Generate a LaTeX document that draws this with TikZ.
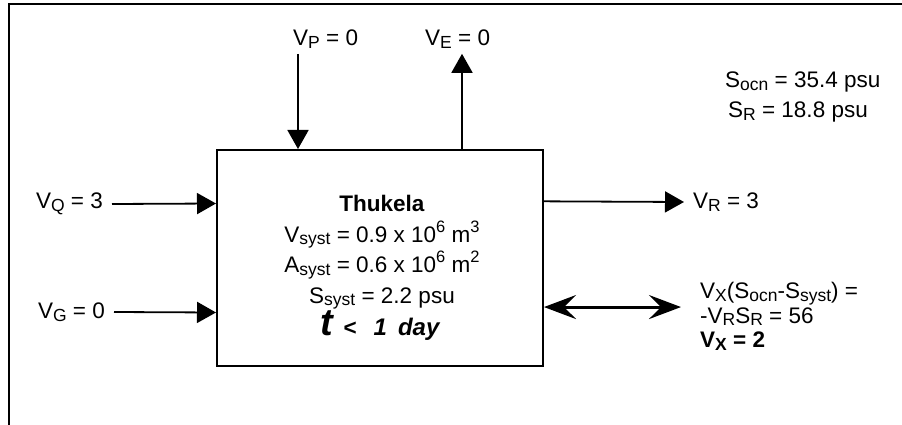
\documentclass[tikz,border=0pt]{standalone}
\usepackage{fontspec}
\setmainfont{Liberation Sans}
\usetikzlibrary{calc,arrows.meta}
\newcommand{\subtxt}[1]{\raisebox{-0.22ex}{\fontsize{17.5}{17.5}\selectfont #1}}
\newcommand{\suptxt}[1]{\raisebox{0.8ex}{\fontsize{16.5}{16.5}\selectfont #1}}

\begin{document}
\begin{tikzpicture}[x=1pt,y=-1pt,>={Triangle[length=19pt,width=21pt]},
    lbl/.style={font=\fontsize{22.5}{26}\selectfont, inner xsep=9pt, inner ysep=5pt},
    flow/.style={->, line width=1.8pt}]
      \useasboundingbox (0,0) rectangle (902,425);
      \draw[line width=2pt] (9,425) -- (9,4) -- (902,4);
      % the estuary box
      \node[draw, line width=2pt, minimum width=326pt, minimum height=216pt, inner sep=0pt] (box) at (380,258) {};
      \node[font=\fontsize{22.5}{30.5}\selectfont, align=center, anchor=north, inner sep=0pt] (boxtxt) at (382,195)
        {\textbf{Thukela}\\
         V\subtxt{syst} = 0.9 x 10\suptxt{6} m\suptxt{3}\\
         A\subtxt{syst} = 0.6 x 10\suptxt{6} m\suptxt{2}\\
         S\subtxt{syst} = 2.2 psu\\
         \hspace*{-4pt}{\fontsize{38}{30}\selectfont\bfseries\itshape t}\hspace{9pt}\textbf{<}\hspace{17pt}{\fontsize{24}{30}\selectfont\bfseries\itshape 1\hspace{11pt}day}};
      \coordinate (qin) at ($(box.north west)!0.25!(box.south west)$);
      \coordinate (gin) at ($(box.north west)!0.75!(box.south west)$);
      \coordinate (rout) at ($(box.north east)!0.24!(box.south east)$);
      \coordinate (xout) at ($(box.north east)!0.725!(box.south east)$);
      \coordinate (pin) at ($(box.north west)!0.25!(box.north east)$);
      \coordinate (eout) at ($(box.north west)!0.75!(box.north east)$);
      % fluxes
      \node[lbl, anchor=east] (vq) at (112,204) {V\subtxt{Q} = 3};
      \node[lbl, anchor=east] (vg) at (114,312) {V\subtxt{G} = 0};
      \node[lbl, anchor=base west] (vp) at (284,46) {V\subtxt{P} = 0};
      \node[lbl, anchor=base west] (ve) at (416,46) {V\subtxt{E} = 0};
      \node[lbl, anchor=west] (vr) at (684,202) {V\subtxt{R} = 3};
      \draw[flow] (vq.east) -- (qin);
      \draw[flow] (vg.east) -- (gin);
      \draw[flow] (vp.south -| pin) -- (pin);
      \draw[flow] (eout) -- (ve.south -| eout);
      \draw[flow] (rout) -- (vr.west);
      % exchange with the ocean
      \coordinate (xend) at ($(xout)+(137,0)$);
      \draw[<->, line width=3pt, >={Stealth[length=32pt,width=24pt,inset=12pt]}] (xout) -- (xend);
      \node[lbl, anchor=base west, inner sep=0pt] (socn) at (725,88) {S\subtxt{ocn} = 35.4 psu};
      \node[lbl, anchor=base west, inner sep=0pt] (sr) at (728,118) {S\subtxt{R} = 18.8 psu};
      \node[font=\fontsize{22.5}{24.5}\selectfont, align=left, anchor=north west, inner sep=0pt] (vx) at (700,282)
        {V\subtxt{X}(S\subtxt{ocn}-S\subtxt{syst}) =\\
         -V\subtxt{R}S\subtxt{R} = 56\\
         \textbf{V\subtxt{X} = 2}};
    \end{tikzpicture}
\end{document}
